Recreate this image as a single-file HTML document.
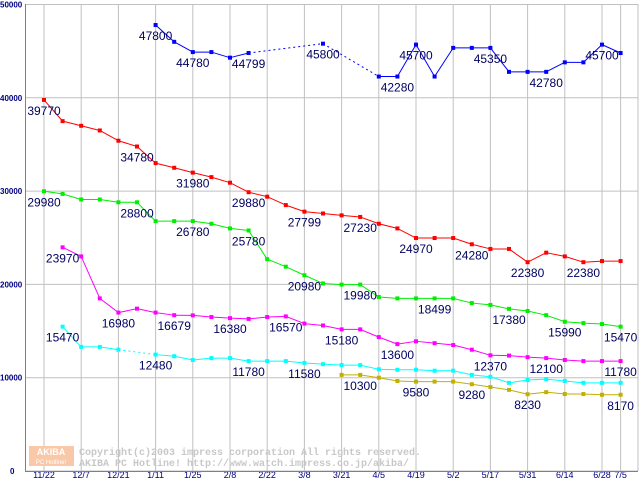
<!DOCTYPE html>
<html><head><meta charset="utf-8"><style>
html,body{margin:0;padding:0;background:#fff;}
svg{display:block;font-family:"Liberation Sans",sans-serif;}
</style></head><body>
<svg id="chart" width="640" height="480" viewBox="0 0 640 480" xmlns="http://www.w3.org/2000/svg">
<g id="grid"></g>
<g id="series"></g>
<g id="labels"></g>
<g id="axes"></g>
<g>
<rect x="29" y="446" width="45" height="20" fill="#f8c8a8"/>
<text x="51" y="455" font-size="9" fill="#fff" text-anchor="middle" font-weight="bold">AKIBA</text>
<text x="51" y="464" font-size="6" fill="#fff" text-anchor="middle">PC Hotline!</text>
<text x="79" y="455" font-size="10" fill="#c8c8c8" font-family="Liberation Mono,monospace" font-weight="bold">Copyright(c)2003 impress corporation All rights reserved.</text>
<text x="79" y="466" font-size="10" fill="#c8c8c8" font-family="Liberation Mono,monospace" font-weight="bold">AKIBA PC Hotline!  http://www.watch.impress.co.jp/akiba/</text>
</g>
</svg>
<script>
const tickIdx=[0,2,4,6,8,10,12,14,16,18,20,22,24,26,28,30,31];
const tickLabels=["11/22","12/7","12/21","1/11","1/25","2/8","2/22","3/8","3/21","4/5","4/19","5/2","5/17","5/31","6/14","6/28","7/5"];
const yTicks=[0,10000,20000,30000,40000,50000];
const N=null;
const red=[39770,37500,37000,36500,35400,34780,33000,32500,31980,31500,30900,29880,29400,28500,27799,27600,27400,27230,26500,26000,24970,24970,24970,24300,23800,23800,22380,23400,23000,22380,22500,22500];
const blue=[N,N,N,N,N,N,47800,46000,44900,44900,44300,44799,N,N,N,45800,N,N,42280,42280,45700,42280,45350,45350,45350,42780,42780,42780,43800,43800,45700,44800];
const green=[29980,29700,29100,29100,28800,28800,26780,26780,26780,26500,26000,25780,22700,21900,20980,20100,19980,19980,18650,18499,18499,18499,18499,18000,17800,17380,17150,16700,16000,15850,15750,15470];
const magenta=[N,23970,23000,18500,16980,17400,16980,16700,16679,16500,16380,16300,16500,16570,15800,15600,15180,15180,14350,13600,13900,13700,13500,13000,12400,12370,12200,12100,11900,11780,11780,11780];
const cyan=[N,15470,13300,13300,13000,N,12480,12300,11900,12100,12100,11780,11780,11780,11580,11450,11350,11350,10900,10850,10850,10750,10750,10300,10100,9450,9750,9850,9650,9450,9450,9450];
const olive=[N,N,N,N,N,N,N,N,N,N,N,N,N,N,N,N,10300,10300,10000,9650,9580,9580,9580,9300,9000,8700,8230,8450,8250,8250,8170,8170];
const redLabels=[[0,"39770"],[5,"34780"],[8,"31980"],[11,"29880"],[14,"27799"],[17,"27230"],[20,"24970"],[23,"24280"],[26,"22380"],[29,"22380"]];
const blueLabels=[[6,"47800"],[8,"44780"],[11,"44799"],[15,"45800"],[19,"42280"],[20,"45700"],[24,"45350"],[27,"42780"],[30,"45700"]];
const greenLabels=[[0,"29980"],[5,"28800"],[8,"26780"],[11,"25780"],[14,"20980"],[17,"19980"],[21,"18499"],[25,"17380"],[28,"15990"],[31,"15470"]];
const magentaLabels=[[1,"23970"],[4,"16980"],[7,"16679"],[10,"16380"],[13,"16570"],[16,"15180"],[19,"13600"],[24,"12370"],[27,"12100"],[31,"11780"]];
const cyanLabels=[[1,"15470"],[6,"12480"],[11,"11780"],[14,"11580"]];
const oliveLabels=[[17,"10300"],[20,"9580"],[23,"9280"],[26,"8230"],[31,"8170"]];

const NS="http://www.w3.org/2000/svg";
function X(i){return 44+i*18.6;}
function Y(v){return 471-v*0.00933;}
function mk(tag,attrs,parent){const e=document.createElementNS(NS,tag);for(const k in attrs)e.setAttribute(k,attrs[k]);parent.appendChild(e);return e;}
const grid=document.getElementById('grid'),axes=document.getElementById('axes'),ser=document.getElementById('series'),lab=document.getElementById('labels');
yTicks.forEach(v=>{
 const l=mk('line',{x1:25,x2:638,y1:Y(v),y2:Y(v),stroke:'#c0c0c0','stroke-width':1},grid);
 
 
 const t=mk('text',{x:v===0?10:0,y:Y(v)+3,'font-size':8,'font-weight':'bold',fill:'#000080'},axes);
 t.textContent=String(v);
 
 
});
tickIdx.forEach((i,k)=>{
 const l=mk('line',{x1:X(i),x2:X(i),y1:4,y2:471,stroke:'#c0c0c0','stroke-width':1},grid);
 
 
 const t=mk('text',{x:X(i),y:478,'font-size':9,fill:'#000080','text-anchor':'middle'},axes);
 t.textContent=tickLabels[k];
 
 
});
const rl=mk('line',{x1:638,x2:638,y1:4,y2:471,stroke:'#c0c0c0'},grid);


const ya=mk('line',{x1:25.5,x2:25.5,y1:4,y2:471,stroke:'#808080'},axes);


const xa=mk('line',{x1:25,x2:638,y1:471.5,y2:471.5,stroke:'#808080'},axes);



function draw(name,data,color,labels){
 const g=mk('g',{},ser);
 
 
 let prev=-1;
 data.forEach((v,i)=>{
  if(v===null)return;
  if(prev>=0){
   const gap=i-prev>1;
   const s=mk('line',{x1:X(prev),y1:Y(data[prev]),x2:X(i),y2:Y(v),stroke:color,'stroke-width':1,'stroke-dasharray':gap?'2,3':'none'},g);
   
   
  }
  prev=i;
 });
 data.forEach((v,i)=>{
  if(v===null)return;
  const r=mk('rect',{x:X(i)-2,y:Y(v)-2,width:4,height:4,fill:color},g);
  
  
 });
 labels.forEach(([i,txt])=>{
  const t=mk('text',{x:X(i),y:Y(data[i])+15,'font-size':12,fill:'#000060','text-anchor':'middle'},lab);
  t.textContent=txt;
  
  
 });
}
draw('red',red,'#ff0000',redLabels);
draw('blue',blue,'#0000ff',blueLabels);
draw('green',green,'#00ee00',greenLabels);
draw('magenta',magenta,'#ff00ff',magentaLabels);
draw('cyan',cyan,'#00ffff',cyanLabels);
draw('olive',olive,'#c0b000',oliveLabels);
</script>
</body></html>
